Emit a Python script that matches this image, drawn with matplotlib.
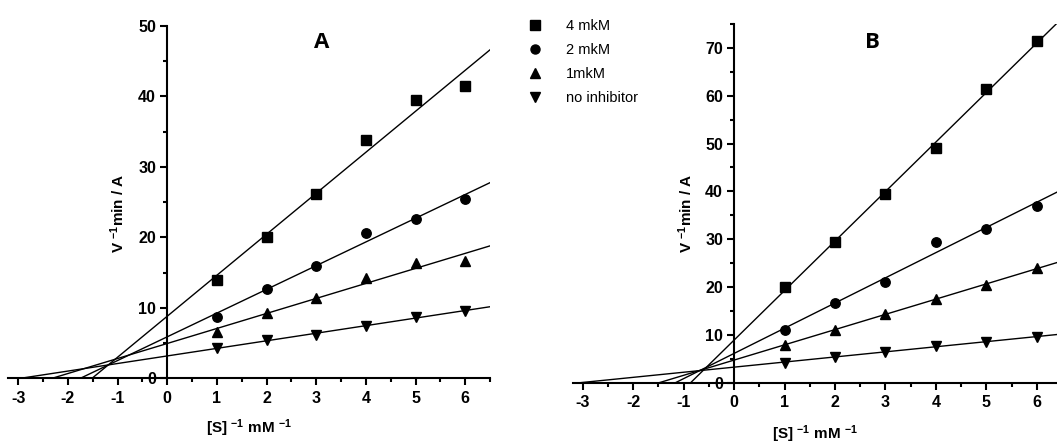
import numpy as np
import matplotlib
matplotlib.use("Agg")
import matplotlib.pyplot as plt
from matplotlib.lines import Line2D
from matplotlib.ticker import MultipleLocator

plt.rcParams['font.family'] = ['Liberation Sans', 'DejaVu Sans']
plt.rcParams['mathtext.fontset'] = 'custom'
plt.rcParams['mathtext.rm'] = 'Liberation Sans'
plt.rcParams['mathtext.bf'] = 'Liberation Sans:bold'
plt.rcParams['mathtext.default'] = 'bf'
plt.rcParams['axes.unicode_minus'] = False

# ---------------------------------------------------------------
# data (1/[S] vs 1/V)
s_inv = [1, 2, 3, 4, 5, 6]

labels = ['4 mkM', '2 mkM', '1mkM', 'no inhibitor']
markers = ['s', 'o', '^', 'v']

a_4mkM = [14.0, 20.0, 26.2, 33.8, 39.5, 41.5]
a_2mkM = [8.7, 12.7, 16.0, 20.6, 22.6, 25.4]
a_1mkM = [6.6, 9.2, 11.4, 14.2, 16.3, 16.7]
a_none = [4.3, 5.4, 6.2, 7.4, 8.7, 9.6]

b_4mkM = [20.0, 29.5, 39.5, 49.1, 61.4, 71.4]
b_2mkM = [11.1, 16.7, 21.0, 29.4, 32.2, 37.0]
b_1mkM = [7.9, 11.1, 14.3, 17.6, 20.5, 23.9]
b_none = [4.2, 5.4, 6.5, 7.7, 8.6, 9.5]

W, H = 1057, 444
fig = plt.figure(figsize=(W / 100, H / 100), dpi=100)


def px_axes(x0, x1, y_top, y_bot):
    return fig.add_axes([x0 / W, 1 - y_bot / H, (x1 - x0) / W, (y_bot - y_top) / H])


def draw_panel(ax, series, xlim, ylim, ymaj, letter, letter_xy, xlab_xy, ylab_xy):
    x = np.array(s_inv, dtype=float)
    for ys, m in zip(series, markers):
        ys = np.array(ys)
        k, b = np.polyfit(x, ys, 1)
        xl = np.array([-b / k, xlim[1]])
        ax.plot(xl, k * xl + b, color='black', lw=1.0)
        ax.plot(x, ys, ls='none', marker=m, color='black', ms=6.8)

    ax.set_xlim(*xlim)
    ax.set_ylim(*ylim)
    for side in ['top', 'right']:
        ax.spines[side].set_visible(False)
    ax.spines['left'].set_position(('data', 0))
    ax.spines['bottom'].set_position(('data', 0))
    ax.spines['left'].set_linewidth(1.5)
    ax.spines['bottom'].set_linewidth(1.5)

    ax.xaxis.set_minor_locator(MultipleLocator(0.5))
    ax.yaxis.set_major_locator(MultipleLocator(ymaj))
    ax.yaxis.set_minor_locator(MultipleLocator(ymaj / 2))
    ax.set_xticks(range(-3, 7))
    ax.tick_params(which='major', direction='out', length=5, width=1.5,
                   labelsize=11.5, pad=3)
    ax.tick_params(which='minor', direction='out', length=3, width=1.5)
    ax.tick_params(axis='x', pad=4)
    for t in ax.get_xticklabels() + ax.get_yticklabels():
        t.set_fontweight('bold')

    ax.set_xlabel('[S] $^{-1}$ mM $^{-1}$', fontsize=11, fontweight='bold')
    ax.set_ylabel('V $^{-1}$min / A', fontsize=11, fontweight='bold')
    ax.xaxis.label.set_verticalalignment('center')
    ax.yaxis.label.set_verticalalignment('center')
    ax.xaxis.set_label_coords(*xlab_xy)
    ax.yaxis.set_label_coords(*ylab_xy)

    fig.text(letter_xy[0] / W, 1 - letter_xy[1] / H, letter, fontsize=16,
             fontweight='bold', family='Open Sans', ha='center', va='center')


ax_a = px_axes(8.3, 490, 26, 378.3)
draw_panel(ax_a, [a_4mkM, a_2mkM, a_1mkM, a_none], (-3.2, 6.5), (0, 50), 10,
           'A', (322, 42), (0.5, -0.141), (0.228, 0.469))

ax_b = px_axes(572.7, 1057, 24, 382.7)
draw_panel(ax_b, [b_4mkM, b_2mkM, b_1mkM, b_none], (-3.2, 6.4), (0, 75), 10,
           'B', (872, 42), (0.5, -0.143), (0.234, 0.473))

# legend between the panels
handles = [Line2D([], [], ls='none', marker=m, color='black', ms=6.5) for m in markers]
fig.legend(handles, labels, loc='upper left', bbox_to_anchor=(528 / W, 1 - 19 / H),
           frameon=False, fontsize=10.5, handlelength=1.0, handletextpad=1.6,
           labelspacing=0.68, borderpad=0, borderaxespad=0)

fig.savefig('out.png', dpi=100)
